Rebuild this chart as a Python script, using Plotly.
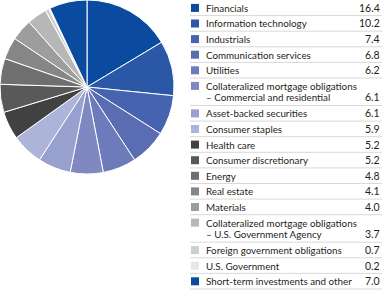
import plotly.graph_objects as go

labels = [
    "Financials", "Information technology", "Industrials", "Communication services",
    "Utilities", "Collateralized mortgage obligations<br>– Commercial and residential",
    "Asset-backed securities", "Consumer staples", "Health care", "Consumer discretionary",
    "Energy", "Real estate", "Materials",
    "Collateralized mortgage obligations<br>– U.S. Government Agency",
    "Foreign government obligations", "U.S. Government", "Short-term investments and other",
]
values = [16.4, 10.2, 7.4, 6.8, 6.2, 6.1, 6.1, 5.9, 5.2, 5.2, 4.8, 4.1, 4.0, 3.7, 0.7, 0.2, 7.0]
colors = [
    "#0A4A9F", "#2B57A7", "#4563AE", "#5A6DB3", "#6E7BBA", "#8088C2", "#98A0CE", "#ADB4DA",
    "#414141", "#595959", "#6F6F6F", "#868686", "#9D9D9D", "#B7B7B7", "#CFCFCF", "#E6E6E6",
    "#0A4A9F",
]

W, H = 382, 293
FONT = "Lato, sans-serif"
FS = 9.8
TXT = "#231F20"

fig = go.Figure(go.Pie(
    labels=[l.replace("<br>", " ") for l in labels], values=values, sort=False,
    direction="clockwise", rotation=0,
    marker=dict(colors=colors, line=dict(color="white", width=1)),
    textinfo="none", hoverinfo="label+value",
    domain=dict(x=[0, 174 / W], y=[1 - 174 / H, 1]),
    showlegend=False,
))

def py(y):
    return 1 - y / H

def px(x):
    return x / W

shapes, annotations = [], []
single, double = 15.6, 27.5
top = 0.0
for lab, val, col in zip(labels, values, colors):
    two = "<br>" in lab
    h = double if two else single
    c1 = top + 7.9
    shapes.append(dict(type="rect", xref="paper", yref="paper",
                       x0=px(191), x1=px(199), y0=py(c1 - 4), y1=py(c1 + 4),
                       fillcolor=col, line=dict(width=0)))
    lines = lab.split("<br>")
    for i, ln in enumerate(lines):
        annotations.append(dict(text=ln, xref="paper", yref="paper", x=px(204), y=py(c1 + i * 11.4),
                                xanchor="left", yanchor="middle", showarrow=False,
                                font=dict(family=FONT, size=FS, color=TXT)))
    vy = c1 + (len(lines) - 1) * 11.4
    annotations.append(dict(text=f"{val:.1f}", xref="paper", yref="paper", x=px(381.5), y=py(vy),
                            xanchor="right", yanchor="middle", showarrow=False,
                            font=dict(family=FONT, size=FS + 0.7, color=TXT)))
    top += h
    shapes.append(dict(type="line", xref="paper", yref="paper",
                       x0=px(190), x1=1, y0=py(top), y1=py(top),
                       line=dict(color="#D9D9D9", width=1)))

fig.update_layout(
    width=W, height=H, margin=dict(l=0, r=0, t=0, b=0),
    paper_bgcolor="white", plot_bgcolor="white",
    shapes=shapes, annotations=annotations,
)
fig.write_html("out.html")
